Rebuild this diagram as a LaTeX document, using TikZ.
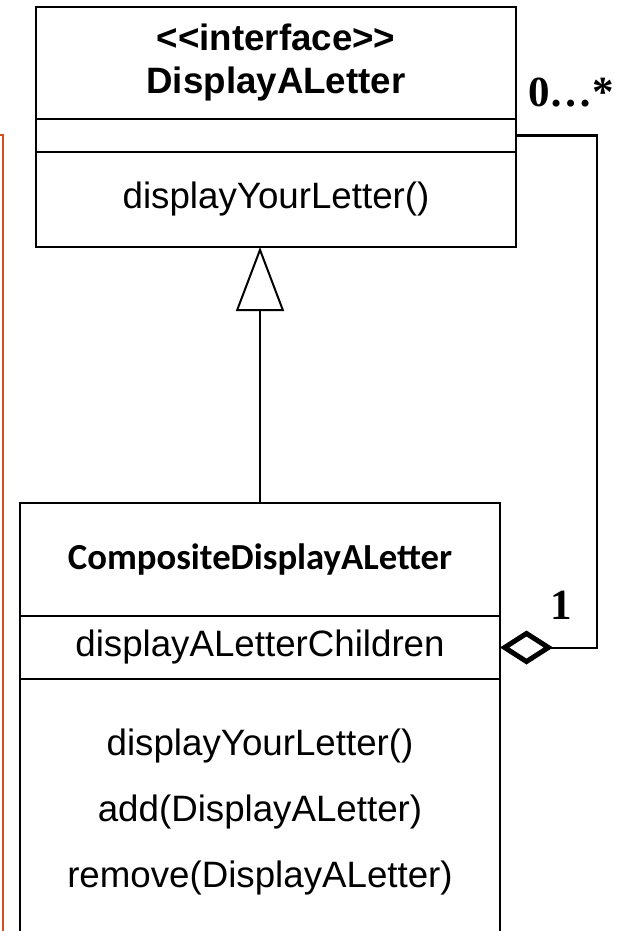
\documentclass[tikz,border=0pt]{standalone}
\usepackage{fontspec}
\setmainfont{Liberation Sans}
\newfontfamily\calibrifont{Carlito}
\newfontfamily\timesfont{Liberation Serif}
\usepackage{xcolor}
\definecolor{frameOrange}{RGB}{212, 78, 30}
\usepackage{tikz}
\usetikzlibrary{arrows.meta, positioning}
\tikzset{classbox/.style={draw=black, line width=2pt, fill=white, inner sep=0pt, outer sep=0pt,
    minimum width=480pt, align=center, font=\fontsize{36.7}{43}\selectfont},
  mult/.style={inner sep=0pt, font=\timesfont\bfseries\fontsize{43}{46}\selectfont}}

\begin{document}
\begin{tikzpicture}[x=1pt, y=-1pt, node distance=0pt]
        \useasboundingbox (0,0) rectangle (635,931);

        % === Orange frame edge on the left ===
        \draw[frameOrange, line width=2pt] (-5,135) -- (3,135) -- (3,940);

        % === Interface class ===
        \node[classbox, minimum height=112pt] (iname) at (276,63)
            {\bfseries <\kern0pt<interface>\kern0pt>\\ \bfseries DisplayALetter};
        \node[classbox, minimum height=33pt, below=of iname] (iattr) {};
        \node[classbox, minimum height=95pt, below=of iattr] (iops) {displayYourLetter()};

        % === Composite class ===
        \node[classbox, minimum height=113pt] (cname) at (260,559.5)
            {\calibrifont\bfseries CompositeDisplayALetter};
        \node[classbox, minimum height=63pt, below=of cname] (kids) {displayALetterChildren};
        \node[classbox, minimum height=266pt, below=of kids, font=\fontsize{36.7}{66}\selectfont] (ops)
            {displayYourLetter()\\ add(DisplayALetter)\\ remove(DisplayALetter)};

        % === Generalization ===
        \draw[line width=2pt, -{Triangle[open, length=64pt, width=48pt, line width=2pt]}]
            (cname.north) -- (cname.north |- iops.south);

        % === Aggregation ===
        \draw[line width=2pt, {Diamond[open, length=53pt, width=34pt, line width=5pt, fill=white]}-]
            (kids.east) -- ++(97,0) |- (iattr.east);
        \node[mult, anchor=base west] (many) at (528,107) {0…*};
        \node[mult, anchor=base] (one) at (561,619) {1};
\end{tikzpicture}
\end{document}
